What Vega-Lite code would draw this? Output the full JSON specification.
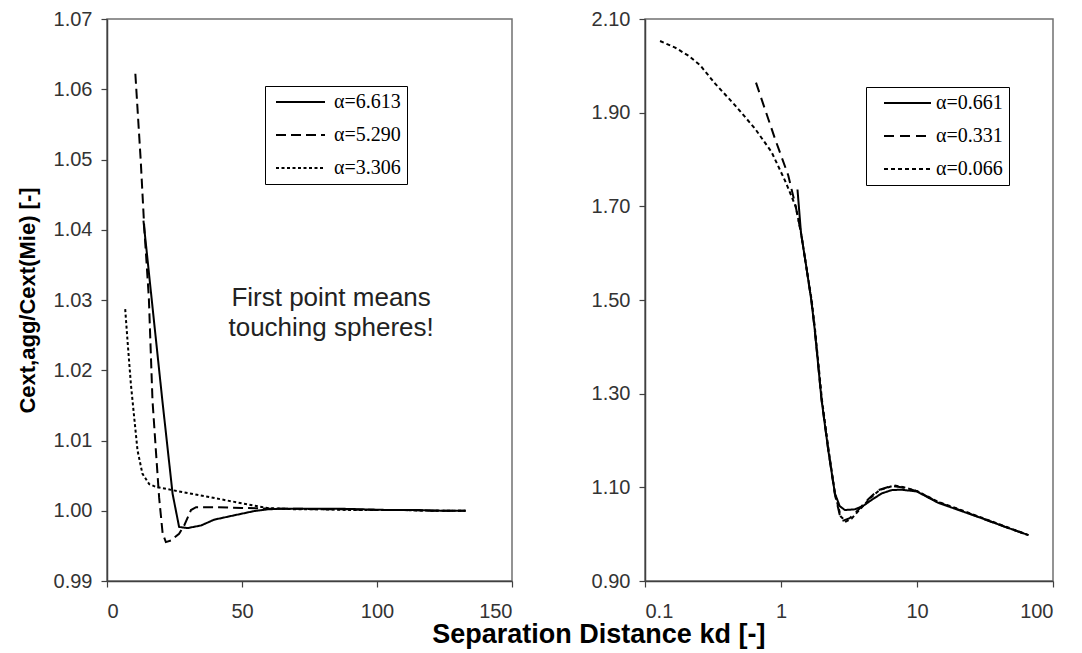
{
  "$schema": "https://vega.github.io/schema/vega-lite/v6.json",
  "background": "white",
  "padding": {"left": 15, "top": 8, "right": 8, "bottom": 2},
  "bounds": "flush",
  "spacing": 133,
  "title": {"text": "Separation Distance kd  [-]", "orient": "bottom", "anchor": "middle", "fontSize": 27, "fontWeight": "bold", "font": "Liberation Sans", "color": "black", "dx": 64, "offset": 0},
  "datasets": {
    "left": [
      {"series": "α=6.613", "kd": 13.5, "ratio": 1.0413},
      {"series": "α=6.613", "kd": 16.5, "ratio": 1.0303},
      {"series": "α=6.613", "kd": 20.5, "ratio": 1.0157},
      {"series": "α=6.613", "kd": 24.3, "ratio": 1.0024},
      {"series": "α=6.613", "kd": 26.7, "ratio": 0.9977},
      {"series": "α=6.613", "kd": 29.8, "ratio": 0.99753},
      {"series": "α=6.613", "kd": 34.8, "ratio": 0.9979},
      {"series": "α=6.613", "kd": 39.7, "ratio": 0.99873},
      {"series": "α=6.613", "kd": 47.1, "ratio": 0.99935},
      {"series": "α=6.613", "kd": 54.5, "ratio": 0.99995},
      {"series": "α=6.613", "kd": 59.4, "ratio": 1.0002},
      {"series": "α=6.613", "kd": 65, "ratio": 1.0003},
      {"series": "α=6.613", "kd": 75, "ratio": 1.0003},
      {"series": "α=6.613", "kd": 85, "ratio": 1.0003},
      {"series": "α=6.613", "kd": 95, "ratio": 1.0002},
      {"series": "α=6.613", "kd": 105, "ratio": 1.0001},
      {"series": "α=6.613", "kd": 115, "ratio": 1.0001},
      {"series": "α=6.613", "kd": 125, "ratio": 1.0},
      {"series": "α=6.613", "kd": 132.8, "ratio": 1.0},
      {"series": "α=5.290", "kd": 10.5, "ratio": 1.0622},
      {"series": "α=5.290", "kd": 12.5, "ratio": 1.0498},
      {"series": "α=5.290", "kd": 13.8, "ratio": 1.0403},
      {"series": "α=5.290", "kd": 15.5, "ratio": 1.0303},
      {"series": "α=5.290", "kd": 16.85, "ratio": 1.0157},
      {"series": "α=5.290", "kd": 18.1, "ratio": 1.0086},
      {"series": "α=5.290", "kd": 19.3, "ratio": 1.0019},
      {"series": "α=5.290", "kd": 20.6, "ratio": 0.9968},
      {"series": "α=5.290", "kd": 21.8, "ratio": 0.99554},
      {"series": "α=5.290", "kd": 23.7, "ratio": 0.99578},
      {"series": "α=5.290", "kd": 26.7, "ratio": 0.99673},
      {"series": "α=5.290", "kd": 28.6, "ratio": 0.99791},
      {"series": "α=5.290", "kd": 31.1, "ratio": 1.0001},
      {"series": "α=5.290", "kd": 33, "ratio": 1.0005},
      {"series": "α=5.290", "kd": 40, "ratio": 1.0005},
      {"series": "α=5.290", "kd": 50, "ratio": 1.0004},
      {"series": "α=5.290", "kd": 60, "ratio": 1.0003},
      {"series": "α=5.290", "kd": 70, "ratio": 1.0003},
      {"series": "α=5.290", "kd": 80, "ratio": 1.0002},
      {"series": "α=5.290", "kd": 90, "ratio": 1.0002},
      {"series": "α=5.290", "kd": 100, "ratio": 1.0001},
      {"series": "α=5.290", "kd": 110, "ratio": 1.0001},
      {"series": "α=5.290", "kd": 120, "ratio": 1.0},
      {"series": "α=5.290", "kd": 132.8, "ratio": 1.0},
      {"series": "α=3.306", "kd": 6.74, "ratio": 1.0287},
      {"series": "α=3.306", "kd": 7.6, "ratio": 1.0242},
      {"series": "α=3.306", "kd": 8.85, "ratio": 1.018},
      {"series": "α=3.306", "kd": 10.07, "ratio": 1.0133},
      {"series": "α=3.306", "kd": 11.3, "ratio": 1.0086},
      {"series": "α=3.306", "kd": 13.1, "ratio": 1.0053},
      {"series": "α=3.306", "kd": 15.6, "ratio": 1.0038},
      {"series": "α=3.306", "kd": 18.1, "ratio": 1.0034},
      {"series": "α=3.306", "kd": 26.1, "ratio": 1.0028},
      {"series": "α=3.306", "kd": 38.5, "ratio": 1.0019},
      {"series": "α=3.306", "kd": 50.8, "ratio": 1.001},
      {"series": "α=3.306", "kd": 59.4, "ratio": 1.0004},
      {"series": "α=3.306", "kd": 70, "ratio": 1.0002},
      {"series": "α=3.306", "kd": 80, "ratio": 1.0002},
      {"series": "α=3.306", "kd": 90, "ratio": 1.0001},
      {"series": "α=3.306", "kd": 100, "ratio": 1.0001},
      {"series": "α=3.306", "kd": 110, "ratio": 1.0001},
      {"series": "α=3.306", "kd": 120, "ratio": 1.0},
      {"series": "α=3.306", "kd": 132.8, "ratio": 1.0}
    ],
    "right": [
      {"series": "α=0.661", "kd": 1.322, "ratio": 1.736},
      {"series": "α=0.661", "kd": 1.402, "ratio": 1.644},
      {"series": "α=0.661", "kd": 1.531, "ratio": 1.573},
      {"series": "α=0.661", "kd": 1.67, "ratio": 1.5},
      {"series": "α=0.661", "kd": 1.77, "ratio": 1.437},
      {"series": "α=0.661", "kd": 1.987, "ratio": 1.287},
      {"series": "α=0.661", "kd": 2.225, "ratio": 1.18},
      {"series": "α=0.661", "kd": 2.491, "ratio": 1.087},
      {"series": "α=0.661", "kd": 2.7, "ratio": 1.06},
      {"series": "α=0.661", "kd": 2.95, "ratio": 1.0515},
      {"series": "α=0.661", "kd": 3.49, "ratio": 1.053},
      {"series": "α=0.661", "kd": 4.0, "ratio": 1.06},
      {"series": "α=0.661", "kd": 4.63, "ratio": 1.073},
      {"series": "α=0.661", "kd": 5.5, "ratio": 1.087},
      {"series": "α=0.661", "kd": 6.5, "ratio": 1.094},
      {"series": "α=0.661", "kd": 7.68, "ratio": 1.095},
      {"series": "α=0.661", "kd": 10, "ratio": 1.091},
      {"series": "α=0.661", "kd": 14.3, "ratio": 1.067},
      {"series": "α=0.661", "kd": 20, "ratio": 1.052},
      {"series": "α=0.661", "kd": 30, "ratio": 1.034},
      {"series": "α=0.661", "kd": 45, "ratio": 1.015},
      {"series": "α=0.661", "kd": 66, "ratio": 0.998},
      {"series": "α=0.331", "kd": 0.655, "ratio": 1.964},
      {"series": "α=0.331", "kd": 0.904, "ratio": 1.844},
      {"series": "α=0.331", "kd": 1.131, "ratio": 1.766},
      {"series": "α=0.331", "kd": 1.284, "ratio": 1.699},
      {"series": "α=0.331", "kd": 1.402, "ratio": 1.644},
      {"series": "α=0.331", "kd": 1.531, "ratio": 1.573},
      {"series": "α=0.331", "kd": 1.67, "ratio": 1.5},
      {"series": "α=0.331", "kd": 1.77, "ratio": 1.437},
      {"series": "α=0.331", "kd": 1.987, "ratio": 1.287},
      {"series": "α=0.331", "kd": 2.225, "ratio": 1.18},
      {"series": "α=0.331", "kd": 2.491, "ratio": 1.085},
      {"series": "α=0.331", "kd": 2.7, "ratio": 1.042},
      {"series": "α=0.331", "kd": 2.87, "ratio": 1.029},
      {"series": "α=0.331", "kd": 3.2, "ratio": 1.034},
      {"series": "α=0.331", "kd": 3.69, "ratio": 1.0515},
      {"series": "α=0.331", "kd": 4.4, "ratio": 1.075},
      {"series": "α=0.331", "kd": 5.18, "ratio": 1.094},
      {"series": "α=0.331", "kd": 6.49, "ratio": 1.103},
      {"series": "α=0.331", "kd": 7.68, "ratio": 1.1},
      {"series": "α=0.331", "kd": 10, "ratio": 1.092},
      {"series": "α=0.331", "kd": 14.3, "ratio": 1.068},
      {"series": "α=0.331", "kd": 20, "ratio": 1.053},
      {"series": "α=0.331", "kd": 30, "ratio": 1.034},
      {"series": "α=0.331", "kd": 45, "ratio": 1.015},
      {"series": "α=0.331", "kd": 66, "ratio": 0.998},
      {"series": "α=0.066", "kd": 0.129, "ratio": 2.053},
      {"series": "α=0.066", "kd": 0.1666, "ratio": 2.039},
      {"series": "α=0.066", "kd": 0.2086, "ratio": 2.0216},
      {"series": "α=0.066", "kd": 0.2543, "ratio": 2.0014},
      {"series": "α=0.066", "kd": 0.3277, "ratio": 1.962},
      {"series": "α=0.066", "kd": 0.4596, "ratio": 1.9157},
      {"series": "α=0.066", "kd": 0.6444, "ratio": 1.8658},
      {"series": "α=0.066", "kd": 0.853, "ratio": 1.8158},
      {"series": "α=0.066", "kd": 1.07, "ratio": 1.755},
      {"series": "α=0.066", "kd": 1.2, "ratio": 1.72},
      {"series": "α=0.066", "kd": 1.284, "ratio": 1.699},
      {"series": "α=0.066", "kd": 1.402, "ratio": 1.644},
      {"series": "α=0.066", "kd": 1.531, "ratio": 1.573},
      {"series": "α=0.066", "kd": 1.68, "ratio": 1.5},
      {"series": "α=0.066", "kd": 1.78, "ratio": 1.437},
      {"series": "α=0.066", "kd": 2.0, "ratio": 1.287},
      {"series": "α=0.066", "kd": 2.24, "ratio": 1.18},
      {"series": "α=0.066", "kd": 2.5, "ratio": 1.085},
      {"series": "α=0.066", "kd": 2.75, "ratio": 1.038},
      {"series": "α=0.066", "kd": 3.0, "ratio": 1.027},
      {"series": "α=0.066", "kd": 3.3, "ratio": 1.033},
      {"series": "α=0.066", "kd": 3.75, "ratio": 1.051},
      {"series": "α=0.066", "kd": 4.5, "ratio": 1.076},
      {"series": "α=0.066", "kd": 5.3, "ratio": 1.094},
      {"series": "α=0.066", "kd": 6.8, "ratio": 1.104},
      {"series": "α=0.066", "kd": 8, "ratio": 1.1},
      {"series": "α=0.066", "kd": 10, "ratio": 1.092},
      {"series": "α=0.066", "kd": 14.3, "ratio": 1.069},
      {"series": "α=0.066", "kd": 20, "ratio": 1.054},
      {"series": "α=0.066", "kd": 30, "ratio": 1.035},
      {"series": "α=0.066", "kd": 45, "ratio": 1.016},
      {"series": "α=0.066", "kd": 66, "ratio": 0.998}
    ]
  },
  "hconcat": [
    {
      "width": 405,
      "height": 562,
      "layer": [
        {
          "data": {"name": "left"},
          "mark": {"type": "line", "color": "black", "strokeWidth": 2},
          "encoding": {
            "x": {"field": "kd", "type": "quantitative", "scale": {"domain": [0, 150], "nice": false, "zero": false},
              "axis": {"values": [0, 50, 100, 150], "format": "d", "title": null}},
            "y": {"field": "ratio", "type": "quantitative", "scale": {"domain": [0.99, 1.07], "nice": false, "zero": false},
              "axis": {"values": [0.99, 1.0, 1.01, 1.02, 1.03, 1.04, 1.05, 1.06, 1.07], "format": ".2f", "title": "Cext,agg/Cext(Mie) [-]"}},
            "strokeDash": {"field": "series", "type": "nominal",
              "scale": {"domain": ["α=6.613", "α=5.290", "α=3.306"], "range": [[1, 0], [10, 5], [3, 2.5]]},
              "legend": {"orient": "none", "legendX": 158, "legendY": 67, "symbolOffset": 4, "symbolSize": 2400, "labelOffset": 8, "labelExpr": "datum.label + ' '"}}
          }
        },
        {
          "data": {"values": [{}]},
          "mark": {"type": "text", "text": ["First point means", "touching spheres!"], "font": "Liberation Sans", "fontSize": 26, "lineHeight": 30, "align": "center", "baseline": "alphabetic", "color": "#222"},
          "encoding": {"x": {"datum": 83}, "y": {"datum": 1.0292}}
        }
      ]
    },
    {
      "width": 408,
      "height": 562,
      "data": {"name": "right"},
      "mark": {"type": "line", "color": "black", "strokeWidth": 2},
      "encoding": {
        "x": {"field": "kd", "type": "quantitative", "scale": {"type": "log", "domain": [0.1, 100], "nice": false},
          "axis": {"values": [0.1, 1, 10, 100], "format": "~g", "title": null}},
        "y": {"field": "ratio", "type": "quantitative", "scale": {"domain": [0.9, 2.1], "nice": false, "zero": false},
          "axis": {"values": [0.9, 1.1, 1.3, 1.5, 1.7, 1.9, 2.1], "format": ".2f", "title": null}},
        "strokeDash": {"field": "series", "type": "nominal",
          "scale": {"domain": ["α=0.661", "α=0.331", "α=0.066"], "range": [[1, 0], [10, 6], [4, 3]]},
          "legend": {"orient": "none", "legendX": 221, "legendY": 68, "symbolOffset": 11, "symbolSize": 2209, "labelOffset": 4, "labelExpr": "datum.label + '   '"}}
      }
    }
  ],
  "resolve": {"scale": {"strokeDash": "independent", "x": "independent", "y": "independent"}, "legend": {"strokeDash": "independent"}},
  "config": {
    "font": "Liberation Sans",
    "view": {"stroke": "#707070", "strokeWidth": 1.5},
    "axis": {
      "grid": false,
      "domainColor": "#404040",
      "domainWidth": 1.5,
      "tickColor": "#404040",
      "tickSize": 6,
      "tickWidth": 1.2,
      "labelFont": "Liberation Sans",
      "labelFontSize": 20,
      "labelColor": "#333",
      "titleFont": "Liberation Sans",
      "titleFontSize": 22,
      "titleFontWeight": "bold",
      "titleColor": "black"
    },
    "axisX": {"labelPadding": 14},
    "axisY": {"labelPadding": 9, "titlePadding": 14},
    "legend": {
      "title": null,
      "strokeColor": "black",
      "fillColor": "white",
      "padding": 6,
      "clipHeight": 20,
      "symbolType": "stroke",
      "symbolStrokeWidth": 2,
      "symbolStrokeColor": "black",
      "labelFont": "Liberation Serif",
      "labelFontSize": 20,
      "labelColor": "black",
      "rowPadding": 13
    }
  }
}
